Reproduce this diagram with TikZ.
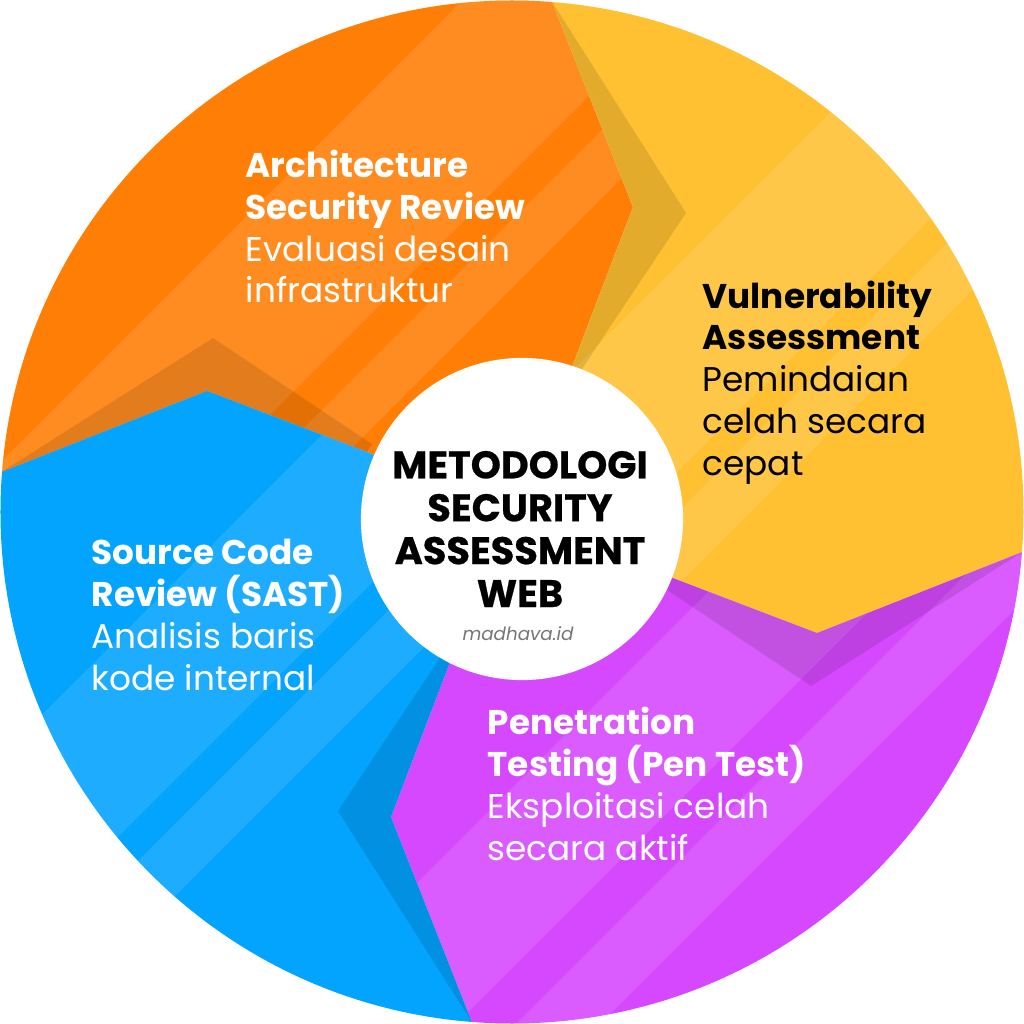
\documentclass[tikz,border=0pt]{standalone}
\usepackage{fontspec}
\setmainfont{Poppins}
\newfontfamily\heavyfont{Poppins}[BoldFeatures = {FakeBold = 0.6}]

\definecolor{segorange}{HTML}{FF7E06}
\definecolor{segyellow}{HTML}{FFC132}
\definecolor{segpurple}{HTML}{D648FE}
\definecolor{segblue}{HTML}{03A4FE}
\definecolor{markgray}{HTML}{767676}

\begin{document}
\begin{tikzpicture}[x=0.01cm, y=0.01cm,
	steplabel/.style = {anchor = base west, align = left, inner sep = 0pt,
		font = \fontsize{9.75}{11.85}\selectfont},
	hublabel/.style = {anchor = base, align = center, inner sep = 0pt,
		font = \fontsize{10.9}{12.2}\selectfont\heavyfont\bfseries}]

\useasboundingbox (-512,-512) rectangle (512,512);

\begin{scope}
\clip (0,0) circle (511.5);

% the four segments, each one a quarter turn of the first
\foreach \ang/\col/\a/\b/\c/\d in {0/segorange/-561/-339/-292/-224,
		-90/segyellow/-81/125/166/238,
		-180/segpurple/276/456/516/600,
		-270/segblue/-267/-69/-25/47} {
	\begin{scope}
	\clip[rotate = \ang] (0,0) -- (60,145) -- (121,305) -- (40,510.4) -- (-35,700)
		-- (-700,700) -- (-700,-35) -- (-510.4,40) -- (-305,121) -- (-145,60) -- cycle;
	\fill[\col] (-600,-600) rectangle (600,600);
	\fill[white, opacity = 0.11] ({\a - 700},-700) -- ({\a + 700},700) -- ({\b + 700},700) -- ({\b - 700},-700) -- cycle;
	\fill[white, opacity = 0.11] ({\c - 700},-700) -- ({\c + 700},700) -- ({\d + 700},700) -- ({\d - 700},-700) -- cycle;
	\end{scope}
}

% shadow in front of each arrow tip
\foreach \ang in {0, -90, -180, -270} {
	\fill[black, opacity = 0.11, rotate = \ang] (60,145) -- (121,305) -- (40,510.4) -- (174,299) -- (68,140) -- cycle;
}
\end{scope}

\node[circle, fill = white, inner sep = 0pt, minimum size = 3.22cm] (hub) at (10,-7) {};

\node[hublabel] (title) at (8,-95) {METODOLOGI\\SECURITY\\ASSESSMENT\\WEB};
\node[anchor = base, inner sep = 0pt, text = markgray, font = \fontsize{5.2}{7}\selectfont\itshape] (mark) at (6,-128) {madhava.id};

\node[steplabel, text = white] (arch) at (-267,209) {\textbf{Architecture}\\\textbf{Security Review}\\Evaluasi desain\\infrastruktur};
\node[steplabel, text = black] (vuln) at (190,37) {\textbf{Vulnerability}\\\textbf{Assessment}\\Pemindaian\\celah secara\\cepat};
\node[steplabel, text = white] (pent) at (-25,-348) {\textbf{Penetration}\\\textbf{Testing (Pen Test)}\\Eksploitasi celah\\secara aktif};
\node[steplabel, text = white] (sast) at (-421,-178) {\textbf{Source Code}\\\textbf{Review (SAST)}\\Analisis baris\\kode internal};

\end{tikzpicture}
\end{document}
